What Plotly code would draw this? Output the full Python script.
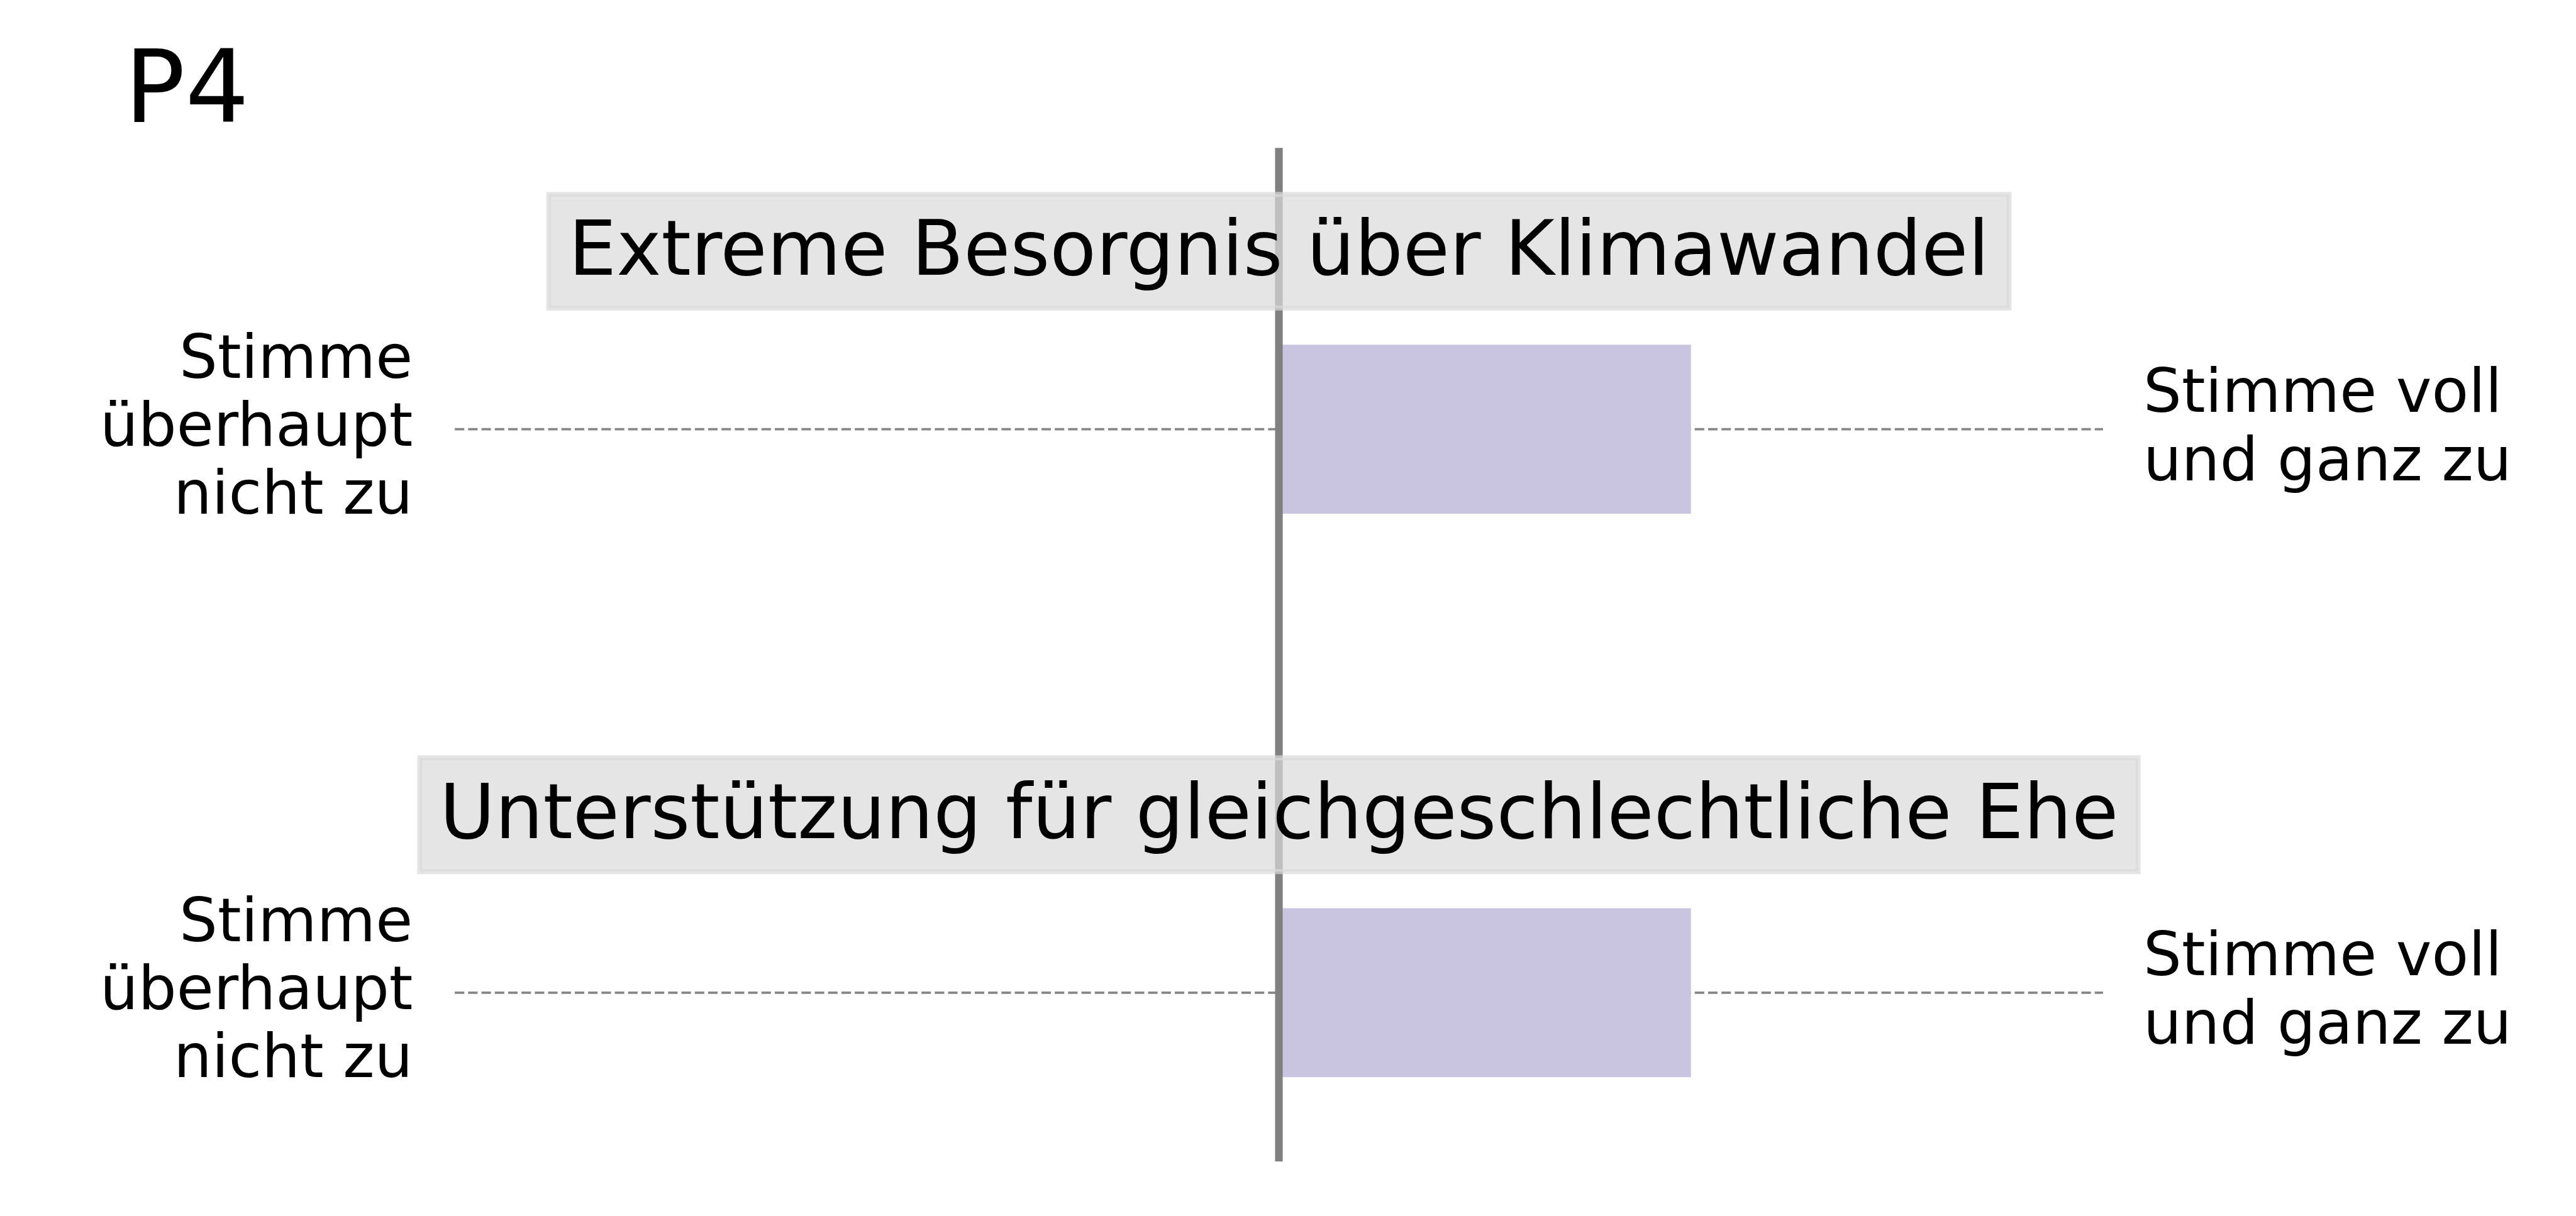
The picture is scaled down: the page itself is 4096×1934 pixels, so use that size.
import plotly.graph_objects as go

# ---------------- data ----------------
items = ["Extreme Besorgnis über Klimawandel",
         "Unterstützung für gleichgeschlechtliche Ehe"]
means = [5.5, 5.5]
scale_min = 1
scale_max = 7
scale_mid = 4
left_label_lines = ["Stimme", "überhaupt", "nicht zu"]
right_label_lines = ["Stimme voll", "und ganz zu"]
panel_label = "P4"

# ---------------- geometry (reference pixels) ----------------
REF_W, REF_H = 4251, 2007
W, H = 4096, 1934
S = W / REF_W

X_MID_PX = 2110.5
PX_PER_UNIT = (3471 - 751) / (scale_max - scale_min)
ROW0_PX = 708.4
ROW_STEP_PX = 930.0


def x_of(px):
    return scale_mid + (px - X_MID_PX) / PX_PER_UNIT


def y_of(py):
    return (py - ROW0_PX) / ROW_STEP_PX


def row_px(i):
    return ROW0_PX + i * ROW_STEP_PX


FONT = "DejaVu Sans"
TITLE_PX = 125.1
LABEL_PX = 99.6
TITLE_SIZE = TITLE_PX * S
LABEL_SIZE = LABEL_PX * S
PANEL_SIZE = 166 * S
MID = 0.346  # baseline -> vertical middle of text box, in em

BAR_COLOR = "#c9c5e1"
GREY = "#808080"
BOX_RGBA = "rgba(218,218,218,0.7)"
box_half_w_px = [1205, 1418]

fig = go.Figure()

fig.add_trace(go.Bar(
    orientation="h",
    y=list(range(len(items))),
    x=[m - scale_mid for m in means],
    base=scale_mid,
    width=279 / ROW_STEP_PX,
    marker=dict(color=BAR_COLOR, line=dict(width=0)),
    hoverinfo="skip",
))

shapes = []
annotations = []

# dotted scale lines (below the bars)
for i in range(len(items)):
    shapes.append(dict(
        type="line", xref="x", yref="y", layer="below",
        x0=scale_min, x1=scale_max, y0=i, y1=i,
        line=dict(color="#878787", width=4 * S,
                  dash=f"{15.7 * S:.1f}px,{6.3 * S:.1f}px"),
    ))

# vertical midpoint line
shapes.append(dict(
    type="line", xref="x", yref="y", layer="above",
    x0=scale_mid, x1=scale_mid, y0=y_of(244), y1=y_of(1917),
    line=dict(color=GREY, width=12.6 * S),
))

for i, name in enumerate(items):
    rp = row_px(i)
    # title box
    cy = rp - 293.7
    hw = box_half_w_px[i]
    shapes.append(dict(
        type="rect", xref="x", yref="y", layer="above",
        x0=x_of(X_MID_PX - hw), x1=x_of(X_MID_PX + hw),
        y0=y_of(cy - 94), y1=y_of(cy + 94),
        fillcolor=BOX_RGBA,
        line=dict(color=BOX_RGBA, width=8 * S),
    ))
    annotations.append(dict(
        x=scale_mid, y=y_of(rp - 255.4 - MID * TITLE_PX), xref="x", yref="y",
        text=name, showarrow=False, xanchor="center", yanchor="middle",
        font=dict(family=FONT, size=TITLE_SIZE, color="black"),
        borderpad=0, borderwidth=0,
    ))
    # left labels (baselines relative to row centre)
    for line, base in zip(left_label_lines, [-84.4, 27.6, 139.6]):
        annotations.append(dict(
            x=x_of(681), y=y_of(rp + base - MID * LABEL_PX), xref="x", yref="y",
            text=line, showarrow=False, xanchor="right", yanchor="middle",
            font=dict(family=FONT, size=LABEL_SIZE, color="black"),
            borderpad=0, borderwidth=0,
        ))
    # right labels
    for line, base in zip(right_label_lines, [-28.4, 84.6]):
        annotations.append(dict(
            x=x_of(3537), y=y_of(rp + base - MID * LABEL_PX), xref="x", yref="y",
            text=line, showarrow=False, xanchor="left", yanchor="middle",
            font=dict(family=FONT, size=LABEL_SIZE, color="black"),
            borderpad=0, borderwidth=0,
        ))

annotations.append(dict(
    x=205 / REF_W, y=1 - 144.4 / REF_H, xref="paper", yref="paper",
    text=panel_label, showarrow=False, xanchor="left", yanchor="middle",
    font=dict(family=FONT, size=PANEL_SIZE, color="black"),
    borderpad=0, borderwidth=0,
))

fig.update_layout(
    width=W, height=H,
    margin=dict(l=0, r=0, t=0, b=0, pad=0),
    paper_bgcolor="white", plot_bgcolor="white",
    showlegend=False,
    xaxis=dict(range=[x_of(0), x_of(REF_W)], domain=[0, 1], visible=False,
               showgrid=False, zeroline=False, fixedrange=True),
    yaxis=dict(range=[y_of(REF_H), y_of(0)], domain=[0, 1], visible=False,
               showgrid=False, zeroline=False, fixedrange=True),
    shapes=shapes,
    annotations=annotations,
)

fig.write_html("out.html", config={"displayModeBar": False})
